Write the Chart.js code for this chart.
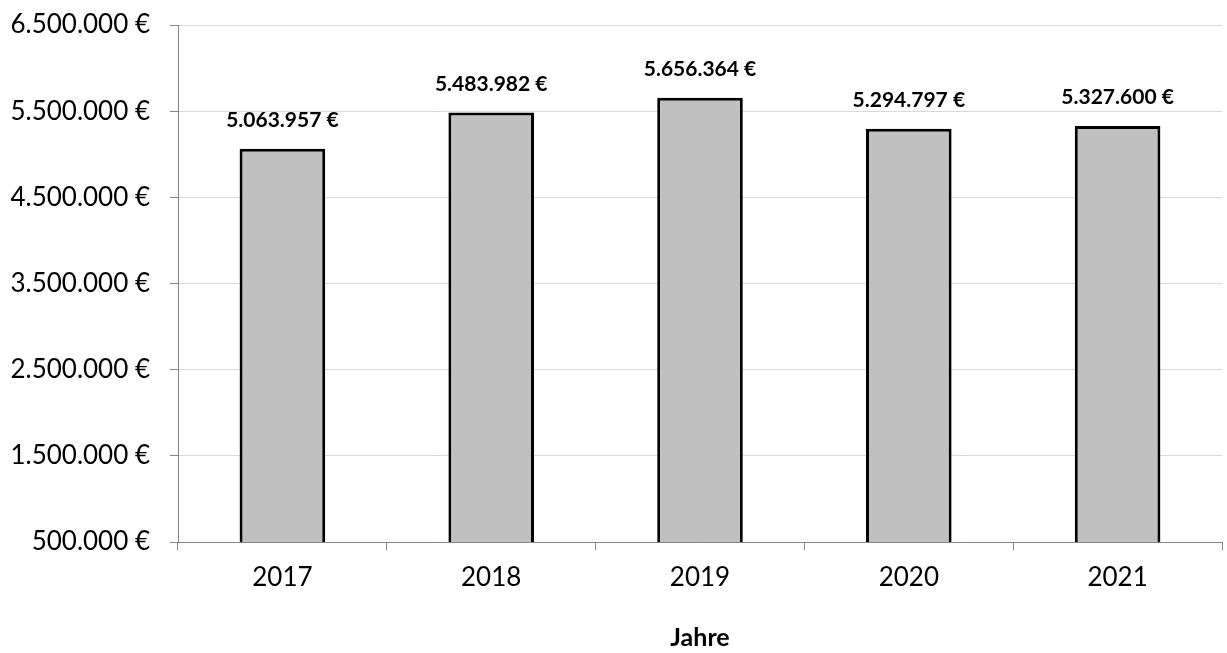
<!DOCTYPE html>
<html>
<head>
<meta charset="utf-8">
<script src="https://cdn.jsdelivr.net/npm/chart.js@4"></script>
<style>
  body { margin: 0; background: #fff; }
  #wrap { width: 1227px; height: 653px; }
</style>
</head>
<body>
<div id="wrap"><canvas id="umsatz-chart"></canvas></div>
<script>
// Werte aus dem Diagramm
const jahre = ['2017', '2018', '2019', '2020', '2021'];
const betraege = [5063957, 5483982, 5656364, 5294797, 5327600];
const yMin = 500000;
const yMax = 6500000;
const yStep = 1000000;
const achsenTitel = 'Jahre';

const FONT = 'Lato, "Open Sans", sans-serif';

// 1234567 -> "1.234.567 €"
function euro(v) {
  return String(Math.round(v)).replace(/\B(?=(\d{3})+(?!\d))/g, '.') + ' €';
}

// Werte über den Balken
const wertLabels = {
  id: 'wertLabels',
  afterDatasetsDraw(chart) {
    const ctx = chart.ctx;
    const meta = chart.getDatasetMeta(0);
    ctx.save();
    ctx.font = 'bold 21px ' + FONT;
    ctx.fillStyle = '#000';
    ctx.textAlign = 'center';
    ctx.textBaseline = 'bottom';
    meta.data.forEach((bar, i) => {
      ctx.fillText(euro(betraege[i]), bar.x, bar.y - 18);
    });
    ctx.restore();
  }
};

const ctx = document.getElementById('umsatz-chart').getContext('2d');
new Chart(ctx, {
  type: 'bar',
  data: {
    labels: jahre,
    datasets: [{
      data: betraege,
      backgroundColor: '#C0C0C0',
      borderColor: '#000',
      borderWidth: 3,
      borderSkipped: false,
      barPercentage: 0.41,
      categoryPercentage: 1.0
    }]
  },
  options: {
    responsive: true,
    maintainAspectRatio: false,
    animation: false,
    layout: { padding: { top: 25, right: 5, left: 0, bottom: 0 } },
    plugins: {
      legend: { display: false },
      tooltip: { enabled: false }
    },
    scales: {
      x: {
        afterFit(scale) { scale.height = 111; },
        grid: {
          offset: true,
          drawOnChartArea: false,
          drawTicks: true,
          tickLength: 8,
          tickColor: '#868686'
        },
        border: { color: '#868686', width: 1 },
        ticks: {
          color: '#000',
          padding: 12,
          font: { family: FONT, size: 26 }
        },
        title: {
          display: true,
          text: achsenTitel,
          color: '#000',
          font: { family: FONT, size: 25, weight: 'bold' },
          padding: { top: 0, bottom: 0 }
        }
      },
      y: {
        min: yMin,
        max: yMax,
        afterFit(scale) {
          scale.width = 178;
          scale.paddingTop = 0;
        },
        afterBuildTicks(scale) {
          const t = [];
          for (let v = yMin; v <= yMax; v += yStep) t.push({ value: v });
          scale.ticks = t;
        },
        grid: {
          color: '#D9D9D9',
          tickColor: '#868686',
          tickLength: 8
        },
        border: { color: '#868686', width: 1 },
        ticks: {
          color: '#000',
          padding: 20,
          font: { family: FONT, size: 26 },
          callback: v => euro(v)
        }
      }
    }
  },
  plugins: [wertLabels]
});
</script>
</body>
</html>
